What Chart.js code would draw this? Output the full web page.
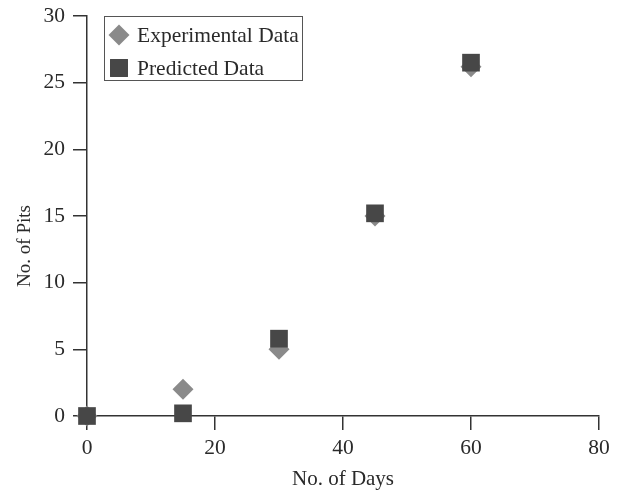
<!DOCTYPE html>
<html>
<head>
<meta charset="utf-8">
<script src="https://cdn.jsdelivr.net/npm/chart.js@4.4.1/dist/chart.umd.min.js"></script>
<style>
  html, body { margin: 0; padding: 0; background: #fff; }
  #wrap { width: 623px; height: 490px; }
</style>
</head>
<body>
<div id="wrap"><canvas id="chart"></canvas></div>
<script>
// values
const days = [0, 15, 30, 45, 60];
const experimental = [0, 2, 5, 15, 26.2];
const predicted = [0, 0.2, 5.8, 15.2, 26.5];
const xTicks = [0, 20, 40, 60, 80];
const yTicks = [0, 5, 10, 15, 20, 25, 30];
const xTitle = 'No. of Days';
const yTitle = 'No. of Pits';

const FONT = "'Liberation Serif', 'DejaVu Serif', serif";
const AXIS = '#333333';
const TEXT = '#2a2a2a';

// legend in a framed box inside the plot, plus the y title a bit below centre
const extras = {
  id: 'extras',
  afterDraw(chart) {
    const ctx = chart.ctx;
    const area = chart.chartArea;
    const left = area.left + 17, top = area.top, w = 198, h = 64;
    ctx.save();
    ctx.strokeStyle = '#555555';
    ctx.lineWidth = 1;
    ctx.strokeRect(left + 0.5, top + 0.5, w, h);
    chart.data.datasets.forEach((ds, i) => {
      const cy = top + 19 + i * 33;
      ctx.fillStyle = ds.backgroundColor;
      Chart.helpers.drawPoint(ctx, {
        pointStyle: ds.pointStyle,
        radius: ds.pointStyle === 'rect' ? 12.7 : 10.5,
        rotation: 0,
        borderWidth: 0
      }, left + 15, cy);
      ctx.fillStyle = TEXT;
      ctx.font = '21.5px ' + FONT;
      ctx.textBaseline = 'middle';
      ctx.textAlign = 'left';
      ctx.fillText(ds.label, left + 33, cy + 1);
    });

    ctx.translate(25, (area.top + area.bottom) / 2 + 30);
    ctx.rotate(-Math.PI / 2);
    ctx.font = '19px ' + FONT;
    ctx.textAlign = 'center';
    ctx.textBaseline = 'middle';
    ctx.fillText(yTitle, 0, 0);
    ctx.restore();
  }
};

new Chart(document.getElementById('chart'), {
  type: 'scatter',
  data: {
    datasets: [
      {
        label: 'Experimental Data',
        data: days.map((d, i) => ({ x: d, y: experimental[i] })),
        pointStyle: 'rectRot',
        pointRadius: 10.5,
        backgroundColor: '#8a8a8a',
        borderWidth: 0,
        clip: false,
        order: 2
      },
      {
        label: 'Predicted Data',
        data: days.map((d, i) => ({ x: d, y: predicted[i] })),
        pointStyle: 'rect',
        pointRadius: 12.5,
        backgroundColor: '#474747',
        borderWidth: 0,
        clip: false,
        order: 1
      }
    ]
  },
  options: {
    responsive: true,
    maintainAspectRatio: false,
    animation: false,
    layout: { padding: { top: 16, right: 24, left: 0, bottom: 0 } },
    plugins: { legend: { display: false }, tooltip: { enabled: false } },
    scales: {
      x: {
        type: 'linear',
        min: 0, max: 80,
        afterBuildTicks: s => { s.ticks = xTicks.map(v => ({ value: v })); },
        afterFit: s => { s.height = 74; },
        border: { color: AXIS, width: 1.5 },
        grid: { drawOnChartArea: false, drawTicks: true, tickLength: 14, color: AXIS, lineWidth: 1.5 },
        ticks: { color: TEXT, padding: 5, font: { family: FONT, size: 21.5 } },
        title: { display: true, text: xTitle, color: TEXT, padding: { top: 0, bottom: 0 }, font: { family: FONT, size: 21, lineHeight: 1.0 } }
      },
      y: {
        min: 0, max: 30,
        afterBuildTicks: s => { s.ticks = yTicks.map(v => ({ value: v })); },
        afterFit: s => { s.width = 87; s.paddingTop = 0; s.paddingBottom = 0; },
        border: { color: AXIS, width: 1.5 },
        grid: { drawOnChartArea: false, drawTicks: true, tickLength: 14, color: AXIS, lineWidth: 1.5 },
        ticks: { color: TEXT, padding: 8, font: { family: FONT, size: 21.5 } }
      }
    }
  },
  plugins: [extras]
});
</script>
</body>
</html>
